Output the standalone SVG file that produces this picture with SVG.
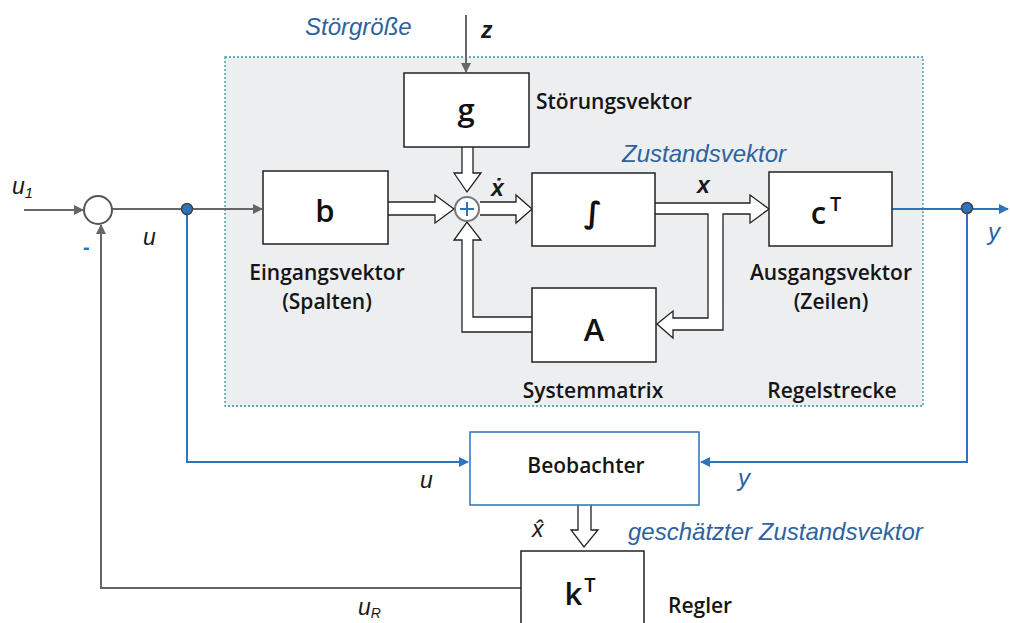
<svg xmlns="http://www.w3.org/2000/svg" width="1010" height="623" viewBox="0 0 1010 623">
<defs>
<style>
.blk{fill:#fff;stroke:#222;stroke-width:1.5}
.obs{fill:#fff;stroke:#2f6fb5;stroke-width:1.5}
.hol{fill:#fff;stroke:#222;stroke-width:1.3;stroke-linejoin:miter}
.gl{fill:none;stroke:#666;stroke-width:2}
.bl{fill:none;stroke:#2f72bd;stroke-width:2}
.lab{font-family:"Open Sans",Lato,sans-serif;font-weight:600;font-size:21px;fill:#151515}
.big{font-family:"Open Sans",Lato,sans-serif;font-weight:600;font-size:31px;fill:#111;text-anchor:middle}
.it{font-family:"Liberation Sans",Arial,sans-serif;font-style:italic;font-size:23px;fill:#1a1a1a}
.bit{font-family:"Liberation Sans",Arial,sans-serif;font-style:italic;font-size:24px;fill:#2d62a0}
</style>
<marker id="ag" markerWidth="10" markerHeight="10" refX="9" refY="5" orient="auto" markerUnits="userSpaceOnUse"><path d="M0,0 L10,5 L0,10 z" fill="#666"/></marker>
<marker id="ab" markerWidth="10" markerHeight="10" refX="9" refY="5" orient="auto" markerUnits="userSpaceOnUse"><path d="M0,0 L10,5 L0,10 z" fill="#2f72bd"/></marker>
</defs>
<rect width="1010" height="623" fill="#fff"/>
<g id="plant">
<rect x="225" y="57" width="698" height="349" fill="#eceef0" stroke="#3a90a6" stroke-width="1.3" stroke-dasharray="2,2"/>
<text class="lab" x="832" y="398" text-anchor="middle">Regelstrecke</text>
</g>
<g id="connectors">
<line class="gl" x1="24" y1="210" x2="83" y2="210" marker-end="url(#ag)"/>
<line class="gl" x1="112" y1="209" x2="262" y2="209" marker-end="url(#ag)"/>
<line class="gl" x1="466" y1="15" x2="466" y2="72" marker-end="url(#ag)"/>
<polyline class="gl" points="521,588 101,588 101,225" marker-end="url(#ag)"/>
<polyline class="bl" points="187,209 187,462 468,462" marker-end="url(#ab)"/>
<line class="bl" x1="892" y1="209" x2="1008" y2="209" marker-end="url(#ab)"/>
<polyline class="bl" points="967,209 967,462 701,462" marker-end="url(#ab)"/>
<path class="hol" d="M388,202 H435 V195 L454,209 L435,223 V215 H388"/>
<path class="hol" d="M480,202 H516 V195 L532,209 L516,223 V215 H480"/>
<path class="hol" d="M462,147 V173 H454 L467,192 L481,173 H473 V147"/>
<path class="hol" d="M532,317 H473 V240 H481 L467,222 L454,240 H462 V332 H532"/>
<path class="hol" d="M655,203 H750 V195 L769,209 L750,223 V214 H723 V330 H673 V338 L657,324 L673,311 V318 H708 V214 H655"/>
<path class="hol" d="M578,505 V530 H571 L584,547 L598,530 H591 V505"/>
<circle cx="187" cy="209" r="5.5" fill="#2f72bd" stroke="#444" stroke-width="1.5"/>
<circle cx="967" cy="208" r="5.5" fill="#2f72bd" stroke="#444" stroke-width="1.5"/>
</g>
<g id="sum1">
<circle cx="98" cy="210" r="14" fill="#fff" stroke="#555" stroke-width="2"/>
</g>
<g id="sum2">
<circle cx="467" cy="209" r="12" fill="#fff" stroke="#777" stroke-width="2"/>
<path d="M467,202 V216 M460,209 H474" stroke="#2f72bd" stroke-width="2"/>
</g>
<g id="b">
<rect class="blk" x="263" y="171" width="125" height="73"/>
<text class="big" x="325" y="222">b</text>
<text class="lab" x="327" y="280" text-anchor="middle">Eingangsvektor</text>
<text class="lab" x="327" y="309" text-anchor="middle">(Spalten)</text>
</g>
<g id="g">
<rect class="blk" x="404" y="73" width="125" height="74"/>
<text class="big" x="466" y="121">g</text>
<text class="lab" x="536" y="109">Störungsvektor</text>
</g>
<g id="integrator">
<rect class="blk" x="532" y="173" width="123" height="73"/>
<text x="593" y="223" text-anchor="middle" font-family="'DejaVu Sans',sans-serif" font-weight="bold" font-size="30" fill="#111">∫</text>
</g>
<g id="A">
<rect class="blk" x="532" y="288" width="124" height="74"/>
<text class="big" x="594" y="341">A</text>
<text class="lab" x="593" y="398" text-anchor="middle">Systemmatrix</text>
</g>
<g id="cT">
<rect class="blk" x="769" y="172" width="123" height="74"/>
<text class="big" x="826" y="224">c<tspan font-size="20" dx="4" dy="-13">T</tspan></text>
<text class="lab" x="831" y="280" text-anchor="middle">Ausgangsvektor</text>
<text class="lab" x="831" y="309" text-anchor="middle">(Zeilen)</text>
</g>
<g id="observer">
<rect class="obs" x="470" y="432" width="229" height="73"/>
<text class="lab" x="586" y="473" text-anchor="middle">Beobachter</text>
</g>
<g id="kT">
<rect class="blk" x="521" y="551" width="123" height="80"/>
<text class="big" x="580" y="605">k<tspan font-size="20" dx="2" dy="-13">T</tspan></text>
<text class="lab" x="668" y="613">Regler</text>
</g>
<g id="labels">
<text class="it" x="12" y="194" font-size="24">u<tspan font-size="15" dy="4">1</tspan></text>
<text class="it" x="143" y="245">u</text>
<text x="83" y="254" font-family="Liberation Sans,sans-serif" font-size="20" font-weight="bold" fill="#2f72bd">-</text>
<text class="bit" x="305" y="35">Störgröße</text>
<text class="it" x="481" y="38" font-weight="bold">z</text>
<text class="it" x="491" y="196" font-style="normal" font-weight="bold" font-size="22">ẋ</text>
<text class="it" x="697" y="193" font-weight="bold" font-size="22">x</text>
<text class="bit" x="622" y="162">Zustandsvektor</text>
<text class="bit" x="988" y="240">y</text>
<text class="it" x="420" y="488">u</text>
<text class="bit" x="738" y="486">y</text>
<text class="it" x="532" y="537" font-size="20">x̂</text>
<text class="bit" x="628" y="540">geschätzter Zustandsvektor</text>
<text class="it" x="358" y="615">u<tspan font-size="14" dy="3">R</tspan></text>
</g>
</svg>
